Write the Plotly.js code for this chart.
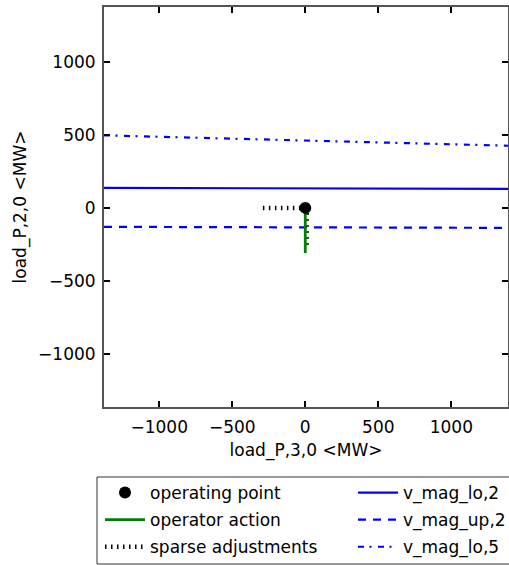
<!DOCTYPE html>
<html>
<head>
<meta charset="utf-8">
<script src="https://cdn.plot.ly/plotly-3.0.1.min.js"></script>
<style>html,body{margin:0;padding:0;background:#fff;}#chart{width:509px;height:565px;}</style>
</head>
<body>
<div id="chart"></div>
<script>
// ---- data ----
const opX = [0];
const opY = [0];
const actionX = [0, 0];
const actionY = [0, -310];
const sparseX = [-290, 0, 10, 10];
const sparseY = [0, 0, -40, -280];
const boundX = [-1378, 1388];
const vMagLo2 = [137, 130];
const vMagUp2 = [-130, -137];
const vMagLo5 = [497, 426];
const xTicks = [-1000, -500, 0, 500, 1000];
const yTicks = [-1000, -500, 0, 500, 1000];
const xTickText = ['\u22121000', '\u2212500', '0', '500', '1000'];
const yTickText = ['\u22121000', '\u2212500', '0', '500', '1000'];

const FONT = 'DejaVu Sans, sans-serif';
const FS = 17;

const traces = [
  {x: boundX, y: vMagLo2, mode: 'lines', name: 'v_mag_lo,2', legend: 'legend2', legendrank: 1, legendgroup: 'b1',
   line: {color: '#0000ff', width: 2.2}},
  {x: boundX, y: vMagUp2, mode: 'lines', name: 'v_mag_up,2', legend: 'legend2', legendrank: 2, legendgroup: 'b2',
   line: {color: '#0000ff', width: 2.2, dash: '8px,7px'}},
  {x: boundX, y: vMagLo5, mode: 'lines', name: 'v_mag_lo,5', legend: 'legend2', legendrank: 3, legendgroup: 'b3',
   line: {color: '#0000ff', width: 2.2, dash: '6px,5.5px,2px,6.5px'}},
  {x: sparseX, y: sparseY, mode: 'lines', name: 'sparse adjustments', legend: 'legend', legendrank: 3, legendgroup: 'a3',
   line: {color: '#000000', width: 4.5, dash: '1.5px,4.5px'}},
  {x: actionX, y: actionY, mode: 'lines', name: 'operator action', legend: 'legend', legendrank: 2, legendgroup: 'a2',
   line: {color: '#008000', width: 2.8}},
  {x: opX, y: opY, mode: 'markers', name: 'operating point', legend: 'legend', legendrank: 1, legendgroup: 'a1',
   marker: {color: '#000000', size: 12}}
];

const axisCommon = {
  showgrid: false, zeroline: false, showline: true, linecolor: '#555', linewidth: 2,
  mirror: 'ticks', ticks: 'inside', ticklen: 6, tickwidth: 2, tickcolor: '#000',
  tickfont: {family: FONT, size: FS, color: '#000'}, tickmode: 'array', automargin: false
};

const legendCommon = {
  orientation: 'v', xanchor: 'left', yanchor: 'top', y: -0.17,
  bgcolor: 'rgba(0,0,0,0)', borderwidth: 0, itemwidth: 40,
  font: {family: FONT, size: FS, color: '#000'},
  traceorder: 'grouped', tracegroupgap: 2
};

const layout = {
  width: 509, height: 565,
  margin: {l: 104, r: 1, t: 7, b: 158, autoexpand: false},
  paper_bgcolor: '#fff', plot_bgcolor: '#fff',
  font: {family: FONT, size: FS, color: '#000'},
  xaxis: Object.assign({}, axisCommon, {
    range: [-1378, 1388], tickvals: xTicks, ticktext: xTickText, ticklabelstandoff: 4,
    title: {text: 'load_P,3,0 <MW>', font: {family: FONT, size: FS}, standoff: 8}
  }),
  yaxis: Object.assign({}, axisCommon, {
    range: [-1365, 1377], tickvals: yTicks, ticktext: yTickText, ticklabelstandoff: 3,
    title: {text: 'load_P,2,0 <MW>', font: {family: FONT, size: FS}, standoff: 7}
  }),
  showlegend: true,
  legend: Object.assign({}, legendCommon, {x: (100 - 104) / 404}),
  legend2: Object.assign({}, legendCommon, {x: (353 - 104) / 404}),
  shapes: [{
    type: 'rect', xref: 'paper', yref: 'paper',
    x0: (97 - 104) / 404, x1: (515 - 104) / 404,
    y0: (407 - 477) / 400, y1: (407 - 564) / 400,
    line: {color: '#333', width: 1}, fillcolor: 'rgba(0,0,0,0)', layer: 'above'
  }]
};

Plotly.newPlot('chart', traces, layout, {displayModeBar: false, staticPlot: true});
</script>
</body>
</html>
